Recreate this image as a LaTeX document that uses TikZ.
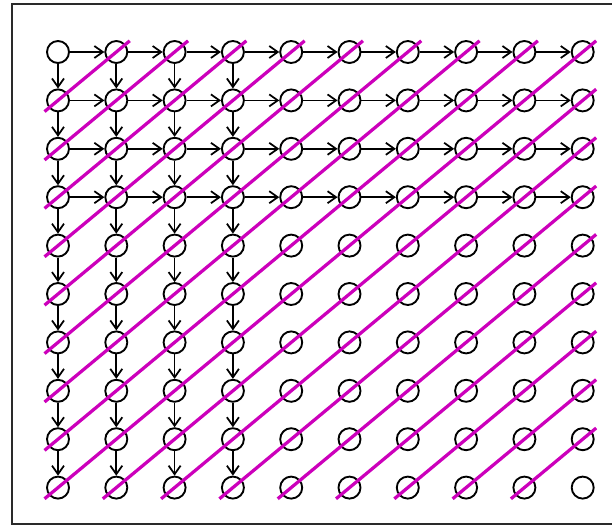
\documentclass[tikz,border=0pt]{standalone}
\usetikzlibrary{arrows.meta}
\definecolor{GridMagenta}{HTML}{CC00BB}
\definecolor{FrameGray}{HTML}{2A2A2A}

\begin{document}
\begin{tikzpicture}[x=0.4mm,y=-0.4mm]
    \tikzset{cell/.style={circle,draw,line width=0.75mm,minimum size=8.8mm,inner sep=0pt},
      flow/.style={-{Straight Barb[length=3.4mm,width=4.8mm]},line width=0.7mm},
      diag/.style={GridMagenta,line width=1.3mm,shorten <=-7mm,shorten >=-7mm}}
    \useasboundingbox (0,0) rectangle (612,526);
    \draw[FrameGray,line width=1mm] (12,4) rectangle (620,524);
    % grid of cells
    \foreach \c in {0,...,9}
      \foreach \r in {0,...,9}
        \node[cell] (n-\c-\r) at ({58+58.3*\c},{52+48.4*\r}) {};
    % first four rows go right, first four columns go down
    \foreach \r in {0,...,3}
      \foreach \c in {0,...,8} {
        \pgfmathtruncatemacro{\cnext}{\c+1}
        \draw[flow] (n-\c-\r) -- (n-\cnext-\r);
      }
    \foreach \c in {0,...,3}
      \foreach \r in {0,...,8} {
        \pgfmathtruncatemacro{\rnext}{\r+1}
        \draw[flow] (n-\c-\r) -- (n-\c-\rnext);
      }
    % anti-diagonals
    \foreach \k in {1,...,17} {
      \pgfmathtruncatemacro{\lo}{max(0,\k-9)}
      \pgfmathtruncatemacro{\hi}{min(9,\k)}
      \pgfmathtruncatemacro{\rlo}{\k-\lo}
      \pgfmathtruncatemacro{\rhi}{\k-\hi}
      \draw[diag] (n-\lo-\rlo.center) -- (n-\hi-\rhi.center);
    }
  \end{tikzpicture}
\end{document}
